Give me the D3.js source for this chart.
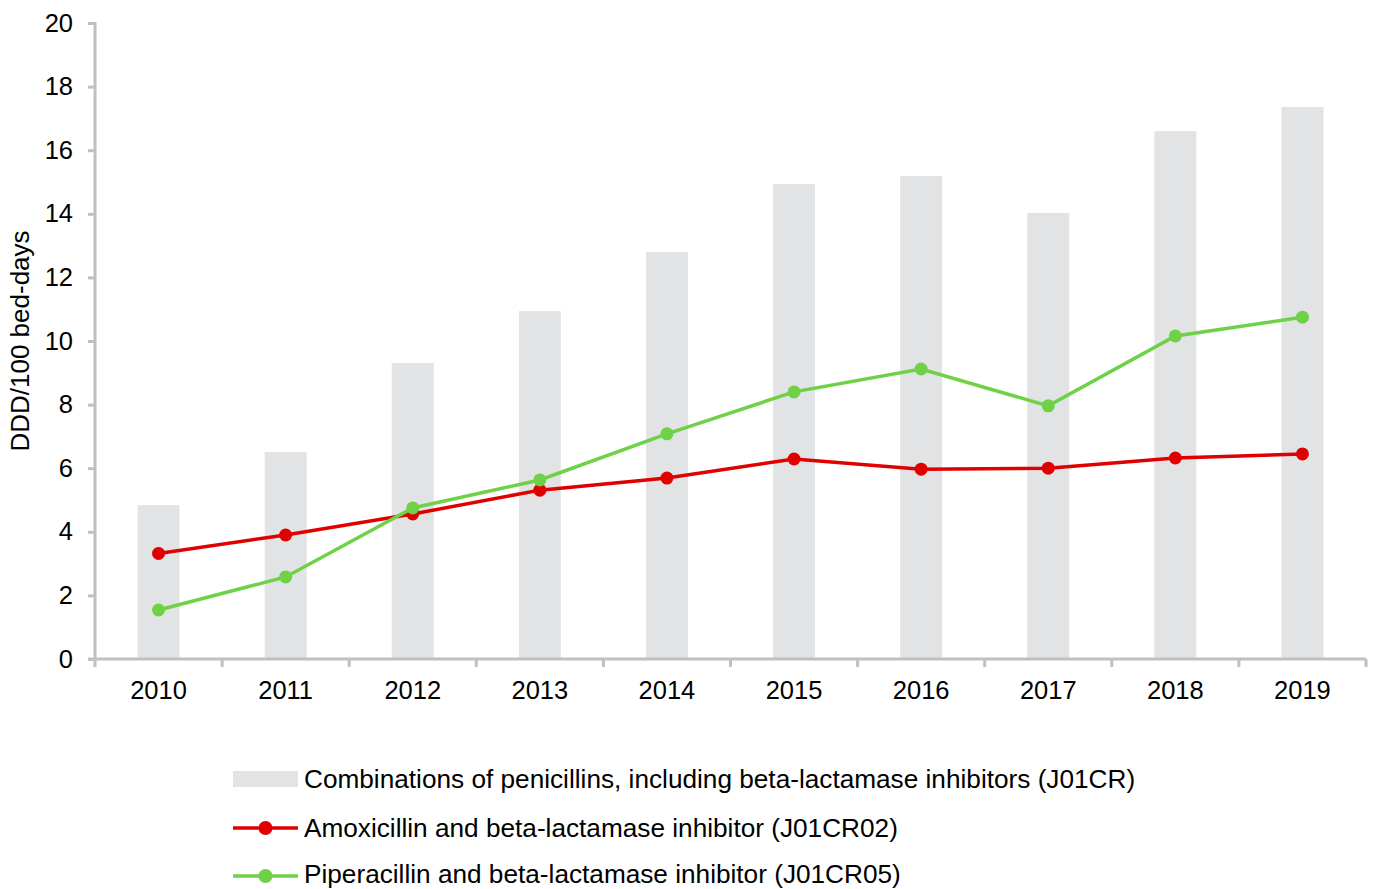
<!DOCTYPE html>
<html><head><meta charset="utf-8">
<script src="https://cdn.jsdelivr.net/npm/d3@7"></script>
<style>body{margin:0;background:#fff;font-family:"Liberation Sans",Arial,sans-serif;}</style>
</head><body><svg id="c" width="1375" height="889"></svg>
<script>
const years = ["2010","2011","2012","2013","2014","2015","2016","2017","2018","2019"];
const combos = [4.84,6.51,9.31,10.94,12.8,14.94,15.19,14.03,16.6,17.36];
const amoxi = [3.32,3.9,4.56,5.31,5.69,6.29,5.97,6.0,6.32,6.45];
const pipera = [1.54,2.58,4.75,5.63,7.08,8.4,9.12,7.96,10.16,10.75];
const yTicks = [0,2,4,6,8,10,12,14,16,18,20];
const legendLabels = ["Combinations of penicillins, including beta-lactamase inhibitors (J01CR)","Amoxicillin and beta-lactamase inhibitor (J01CR02)","Piperacillin and beta-lactamase inhibitor (J01CR05)"];

const svg = d3.select("#c");
const axisCol = "#bfc0c4", barCol = "#e2e3e5", red = "#e00000", green = "#6fd145";
const x = d3.scaleBand().domain(years).range([95,1366]).paddingInner(0.67).paddingOuter(0.335);
const xb = d3.scaleBand().domain(years).range([95,1366]);
const y = d3.scaleLinear().domain([0,20]).range([659,23]);

// bars
svg.append("g").selectAll("rect").data(combos).join("rect")
  .attr("x",(d,i)=>x(years[i])).attr("width",x.bandwidth())
  .attr("y",d=>y(d)).attr("height",d=>y(0)-y(d)).attr("fill",barCol);

// y axis
const ya = svg.append("g").attr("transform","translate(95,0)").call(d3.axisLeft(y).tickValues(yTicks).tickSize(7).tickPadding(15));
ya.select(".domain").attr("stroke",axisCol).attr("stroke-width",3).attr("d","M-7,23.5H0V659");
ya.selectAll(".tick line").attr("stroke",axisCol).attr("stroke-width",3);
ya.selectAll("text").attr("font-size",25.5).attr("fill","#000").attr("font-family","Liberation Sans, Arial, sans-serif");

// x axis
const xg = svg.append("g").attr("transform","translate(0,659)");
xg.append("line").attr("x1",88).attr("x2",1366).attr("y1",0).attr("y2",0).attr("stroke",axisCol).attr("stroke-width",3);
const bounds = years.map(d=>xb(d)).concat([1366]);
xg.selectAll("line.t").data(bounds).join("line").attr("class","t")
  .attr("x1",d=>d).attr("x2",d=>d).attr("y1",0).attr("y2",8).attr("stroke",axisCol).attr("stroke-width",3);
xg.selectAll("text").data(years).join("text")
  .attr("x",d=>xb(d)+xb.bandwidth()/2).attr("y",40).attr("text-anchor","middle")
  .attr("font-size",25.5).attr("fill","#000").text(d=>d);

// y label
svg.append("text").attr("transform","translate(29,341) rotate(-90)").attr("text-anchor","middle")
  .attr("font-size",26).attr("fill","#000").text("DDD/100 bed-days");

// lines
const cx = (i)=>xb(years[i])+xb.bandwidth()/2;
const line = d3.line().x((d,i)=>cx(i)).y(d=>y(d));
[[amoxi,red],[pipera,green]].forEach(([data,col])=>{
  svg.append("path").datum(data).attr("d",line).attr("fill","none").attr("stroke",col).attr("stroke-width",3.5);
  svg.append("g").selectAll("circle").data(data).join("circle")
    .attr("cx",(d,i)=>cx(i)).attr("cy",d=>y(d)).attr("r",6.5).attr("fill",col);
});

// legend
const lg = svg.append("g");
const rows = [779,828,876];
lg.append("rect").attr("x",233).attr("y",771).attr("width",65).attr("height",16).attr("fill",barCol);
[[red,1],[green,2]].forEach(([col,k])=>{
  lg.append("line").attr("x1",233).attr("x2",298).attr("y1",rows[k]).attr("y2",rows[k]).attr("stroke",col).attr("stroke-width",3.5);
  lg.append("circle").attr("cx",265.5).attr("cy",rows[k]).attr("r",7).attr("fill",col);
});
lg.selectAll("text").data(legendLabels).join("text")
  .attr("x",304).attr("y",(d,i)=>Math.min(rows[i]+9,883)).attr("font-size",26.2).attr("fill","#000").text(d=>d);
</script></body></html>
